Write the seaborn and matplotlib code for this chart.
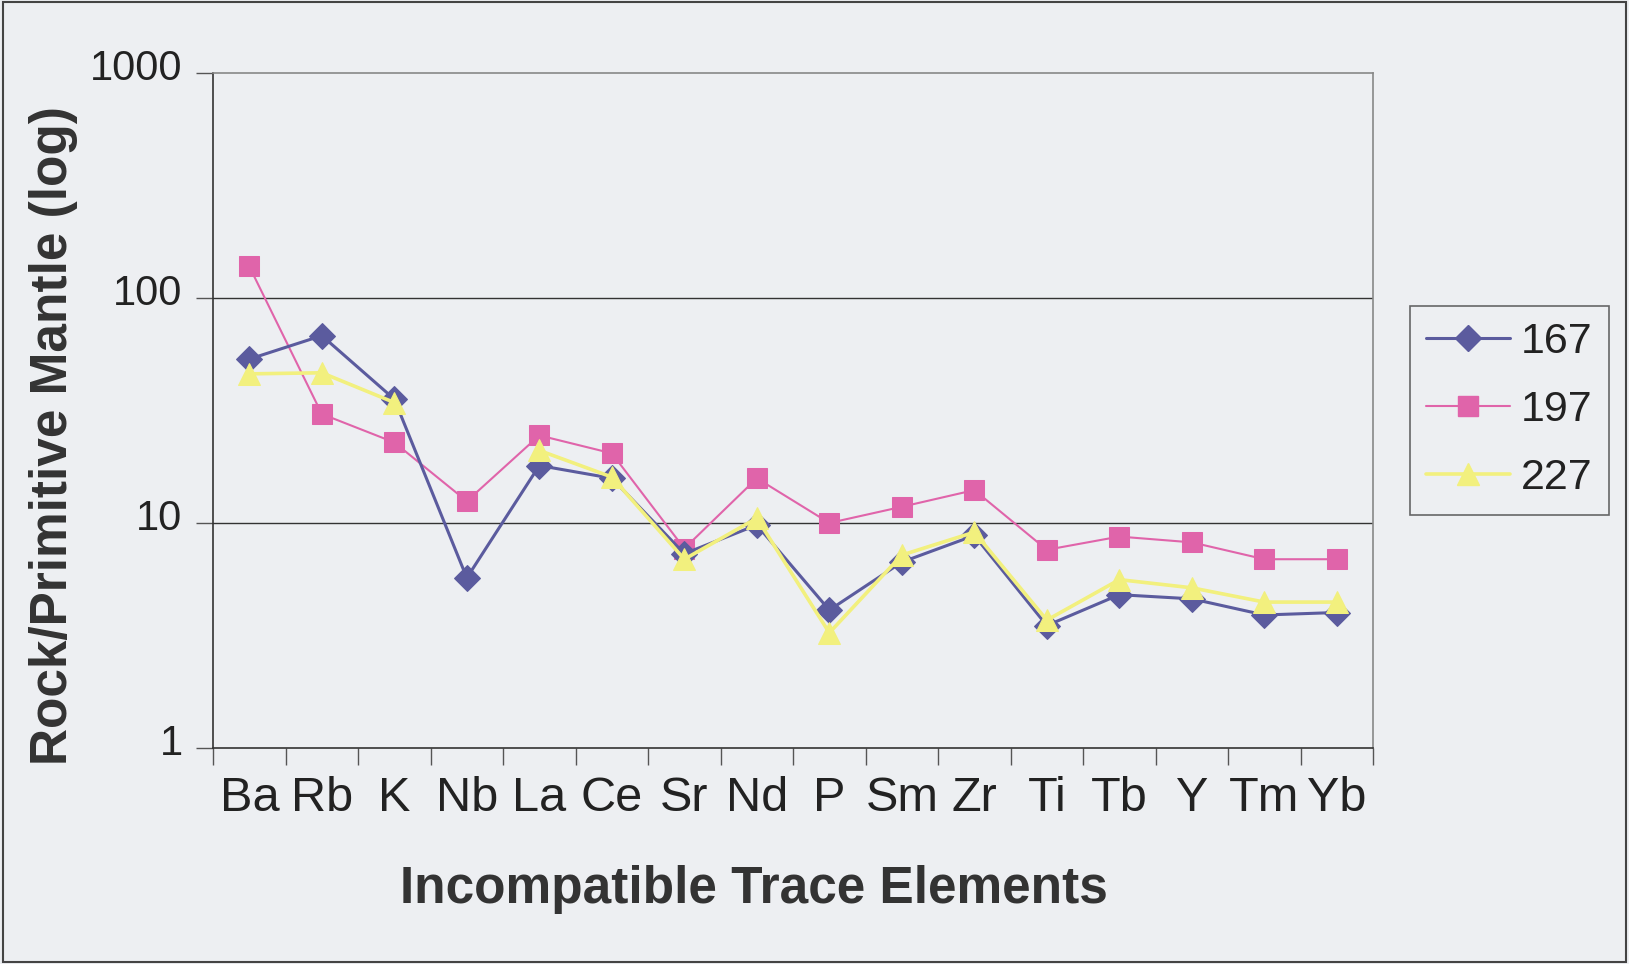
import numpy as np
import pandas as pd
import matplotlib
matplotlib.use('Agg')
import matplotlib.pyplot as plt
import matplotlib.transforms as mtransforms
from matplotlib.lines import Line2D
from matplotlib.patches import Rectangle
import seaborn as sns

elements = ['Ba', 'Rb', 'K', 'Nb', 'La', 'Ce', 'Sr', 'Nd', 'P', 'Sm',
            'Zr', 'Ti', 'Tb', 'Y', 'Tm', 'Yb']
s167 = [53.5, 68, 35.5, 5.7, 18, 15.8, 7.3, 9.8, 4.1, 6.7, 8.8, 3.5, 4.8, 4.6, 3.9, 4.0]
s197 = [138, 30.5, 22.8, 12.5, 24.5, 20.4, 7.7, 15.8, 10.0, 11.8, 14.0, 7.6, 8.7, 8.2, 6.9, 6.9]
s227 = [46, 46.5, 34.3, np.nan, 21, 16, 6.9, 10.5, 3.25, 7.2, 9.1, 3.7, 5.6, 5.15, 4.45, 4.45]

series = {'167': s167, '197': s197, '227': s227}
colors = {'167': '#5b5b9e', '197': '#e064aa', '227': '#f2f07e'}
markers = {'167': 'D', '197': 's', '227': '^'}
msizes = {'167': 13, '197': 15, '227': 16}
lwidths = {'167': 2.2, '197': 1.5, '227': 2.6}

bg = '#edeff2'
sns.set_theme(style='white')
plt.rcParams['font.family'] = ['Liberation Sans', 'DejaVu Sans']

fig = plt.figure(figsize=(16.29, 9.64), dpi=100, facecolor=bg)
ax = fig.add_axes([0.1308, 0.2241, 0.7121, 0.7002])
ax.set_facecolor(bg)

for name, vals in series.items():
    df = pd.DataFrame({'pos': np.arange(len(elements)), 'value': vals})
    # break the line where a value is missing
    df['seg'] = df['value'].isna().cumsum()
    df = df.dropna()
    sns.lineplot(data=df, x='pos', y='value', units='seg', estimator=None,
                 color=colors[name], marker=markers[name], markersize=msizes[name],
                 markeredgecolor=colors[name], linewidth=lwidths[name], ax=ax,
                 zorder=3 if name != '197' else 2)

ax.set_yscale('log')
ax.set_ylim(1, 1000)
ax.set_xlim(-0.5, len(elements) - 0.5)
ax.set_yticks([1, 10, 100, 1000])
ax.set_yticklabels(['1', '10', '100', '1000'])
ax.minorticks_off()
ax.set_xticks(np.arange(len(elements)))
ax.set_xticklabels(elements)
ax.set_xticks(np.arange(len(elements) + 1) - 0.5, minor=True)
ax.tick_params(axis='x', which='major', length=0, pad=20, labelsize=35, colors='#222222')
ax.tick_params(axis='x', which='minor', length=12, width=1, color='#555555', direction='out', bottom=True)
ax.tick_params(axis='y', which='major', length=12, width=1, color='#555555', direction='out',
               left=True, pad=10, labelsize=30, labelcolor='#222222')
ax.set_xlabel('')
ax.set_ylabel('')

# y labels sit a little above their gridlines in the original
shift = mtransforms.ScaledTranslation(0, 8 / 100, fig.dpi_scale_trans)
for lab in ax.get_yticklabels():
    lab.set_transform(lab.get_transform() + shift)

for y in [10, 100]:
    ax.axhline(y, color='#333333', lw=1, zorder=1)

ax.spines['left'].set_color('#333333')
ax.spines['bottom'].set_color('#333333')
ax.spines['top'].set_color('#888888')
ax.spines['right'].set_color('#888888')
for sp in ax.spines.values():
    sp.set_linewidth(1.2)

fig.text(0.463, 0.077, 'Incompatible Trace Elements', ha='center', va='center',
         fontsize=37, fontweight='bold', color='#333333')
fig.text(0.033, 0.548, 'Rock/Primitive Mantle (log)', ha='center', va='center',
         rotation=90, fontsize=37, fontweight='bold', color='#333333')

handles = [Line2D([0], [0], color=colors[n], marker=markers[n], markersize=msizes[n],
                  linewidth=lwidths[n], markeredgecolor=colors[n]) for n in series]
leg = fig.legend(handles, list(series.keys()), loc='upper left',
                 bbox_to_anchor=(0.8656, 0.6826), borderaxespad=0, fontsize=31,
                 frameon=True, fancybox=False, handlelength=1.95, handletextpad=0.25,
                 labelspacing=0.65, borderpad=0.38, labelcolor='#222222')
leg.get_frame().set_facecolor(bg)
leg.get_frame().set_edgecolor('#444444')
leg.get_frame().set_linewidth(1.2)

fig.patches.append(Rectangle((0.002, 0.002), 0.996, 0.996, transform=fig.transFigure,
                             fill=False, edgecolor='#444444', lw=1.5))

fig.savefig('out.png', dpi=100, facecolor=bg)
